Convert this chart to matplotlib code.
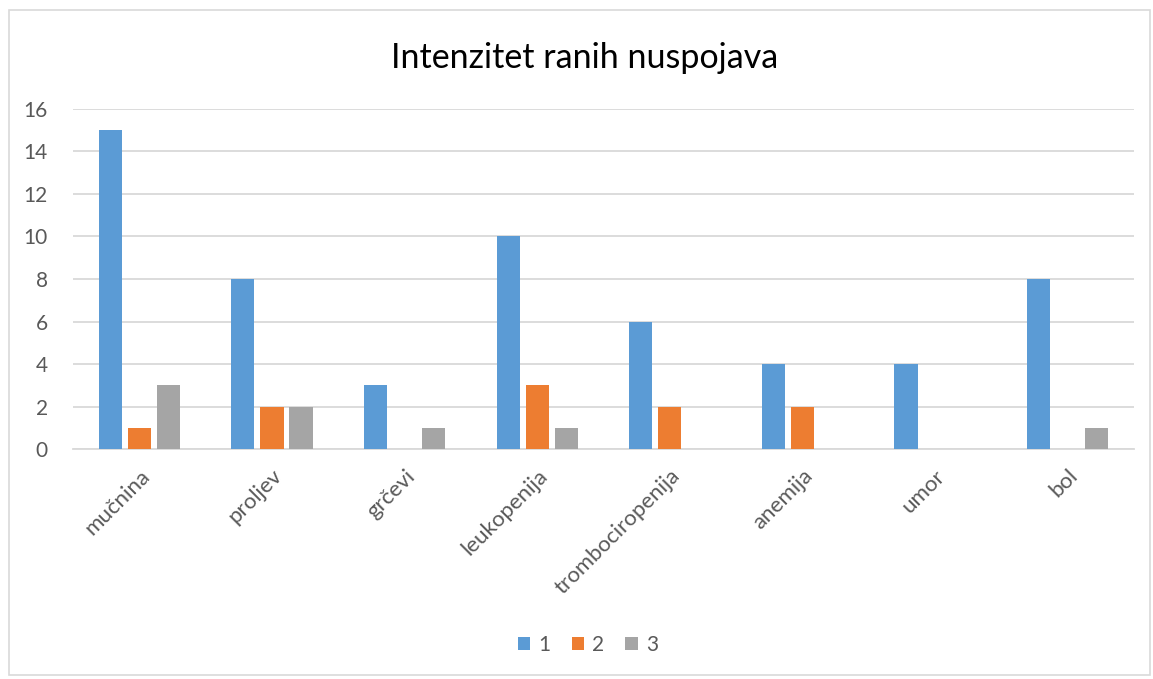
import numpy as np
import matplotlib
matplotlib.use("Agg")
import matplotlib.pyplot as plt
from matplotlib.patches import Rectangle

'''
Intenzitet ranih nuspojava - grupirani stupci
'''

categories = ["mučnina", "proljev", "grčevi", "leukopenija",
              "trombociropenija", "anemija", "umor", "bol"]
series_names = ["1", "2", "3"]
vals_1 = [15, 8, 3, 10, 6, 4, 4, 8]
vals_2 = [1, 2, 0, 3, 2, 2, 0, 0]
vals_3 = [3, 2, 1, 1, 0, 0, 0, 1]
colors = ["#5B9BD5", "#ED7D31", "#A5A5A5"]

plt.rcParams["font.family"] = ["Lato", "DejaVu Sans"]


def plot_chart():
    fig = plt.figure(figsize=(11.53, 6.79), dpi=100)
    ax = fig.add_axes([0.0633, 0.3387, 0.9202, 0.5008])

    # okvir oko grafa
    fig.patches.append(Rectangle((9 / 1153, 4 / 679), 1141 / 1153, 665 / 679,
                                 transform=fig.transFigure, fill=False,
                                 edgecolor="#D9D9D9", linewidth=1.2))

    x = np.arange(len(categories))
    width = 0.175
    pitch = 0.219
    for i, vals in enumerate([vals_1, vals_2, vals_3]):
        ax.bar(x + (i - 1) * pitch, vals, width=width, color=colors[i],
               label=series_names[i], zorder=3)

    ax.set_xlim(-0.5, len(categories) - 0.5)
    ax.set_ylim(0, 16)
    ax.set_yticks(np.arange(0, 17, 2))
    ax.yaxis.grid(True, color="#D9D9D9", linewidth=1.3, zorder=0)
    ax.set_axisbelow(True)
    for s in ["top", "right", "left"]:
        ax.spines[s].set_visible(False)
    ax.spines["bottom"].set_color("#D9D9D9")
    ax.spines["bottom"].set_linewidth(1.3)

    ax.set_xticks(x)
    ax.set_xticklabels(categories, rotation=45, ha="right",
                       rotation_mode="anchor", fontsize=16, color="#595959")
    ax.tick_params(axis="x", length=0, pad=12)
    ax.tick_params(axis="y", length=0, labelsize=15, labelcolor="#595959", pad=18)

    fig.text(0.507, 0.915, "Intenzitet ranih nuspojava", ha="center", va="center",
             fontsize=24.5, color="#000000")

    fig.legend(loc="center", bbox_to_anchor=(0.51, 0.05), ncol=3, frameon=False,
               fontsize=15, handlelength=0.6, handleheight=0.6,
               handletextpad=0.4, columnspacing=1.0, labelcolor="#595959")

    fig.savefig("out.png", dpi=100)


if __name__ == '__main__':
    plot_chart()
